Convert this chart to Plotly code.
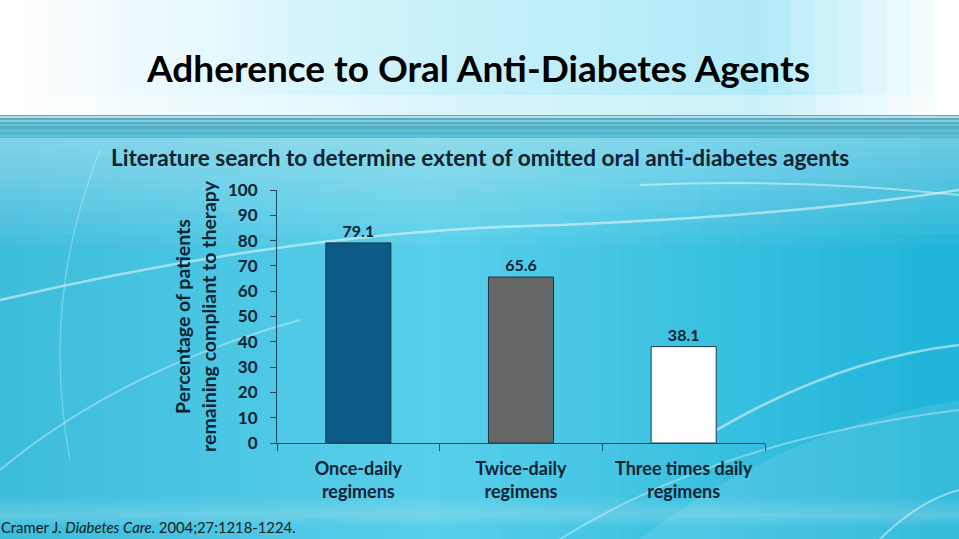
import plotly.graph_objects as go

categories = ["Once-daily<br>regimens", "Twice-daily<br>regimens", "Three times daily<br>regimens"]
values = [79.1, 65.6, 38.1]
value_labels = ["79.1", "65.6", "38.1"]
bar_colors = ["#0b5a87", "#666666", "#ffffff"]
y_ticks = [0, 10, 20, 30, 40, 50, 60, 70, 80, 90, 100]

W, H = 959, 539
ML, MR, MT, MB = 277, 194, 190, 96
PW, PH = W - ML - MR, H - MT - MB
FONT = "Lato"
TXT = "#0d2333"
AX = "#1d4a5e"

def X(px):
    return (px - ML) / PW

def Y(py):
    return (H - MB - py) / PH

def P(px, py):
    return "%.4f %.4f" % (X(px), Y(py))

fig = go.Figure()
fig.add_trace(go.Bar(
    x=categories, y=values, width=0.4,
    marker=dict(color=bar_colors, line=dict(color="#1a3a4a", width=1)),
    text=value_labels, textposition="outside", cliponaxis=False,
    textfont=dict(family=FONT, size=16, color=TXT, weight="bold"),
    hoverinfo="skip",
))

def lerp(c1, c2, t):
    a = [int(c1[i:i+2], 16) for i in (1, 3, 5)]
    b = [int(c2[i:i+2], 16) for i in (1, 3, 5)]
    return "#%02x%02x%02x" % tuple(round(a[k] + (b[k] - a[k]) * t) for k in range(3))

def rect(x0, y0, x1, y1, color, opacity=1.0):
    return dict(type="rect", xref="paper", yref="paper", x0=X(x0), x1=X(x1), y0=Y(y1), y1=Y(y0),
                fillcolor=color, opacity=opacity, line=dict(width=0), layer="below")

shapes = []
# body gradient (left -> right)
N = 48
sw = W / N
for i in range(N):
    t = i / (N - 1)
    if t < 0.45:
        c = lerp("#3dbddc", "#58cfea", t / 0.45)
    else:
        c = lerp("#58cfea", "#1fb4d8", (t - 0.45) / 0.55)
    shapes.append(rect(i * sw, 118, (i + 1) * sw + 1, H, c))
# light band under header fading downward
for k in range(10):
    shapes.append(rect(0, 135, W, 135 + (k + 1) * 11, "#ffffff", 0.045))
# soft light zone near bottom
for k in range(6):
    shapes.append(rect(0, 498 + k * 3, W, 526 - k * 2, "#ffffff", 0.035))
# header gradient
M = 40
sw = W / M
for i in range(M):
    t = i / (M - 1)
    if t < 0.45:
        c = lerp("#ffffff", "#c8f1fa", t / 0.45)
    elif t < 0.8:
        c = lerp("#c8f1fa", "#b0eaf7", (t - 0.45) / 0.35)
    else:
        c = lerp("#b0eaf7", "#ffffff", (t - 0.8) / 0.2)
    shapes.append(rect(i * sw, 0, (i + 1) * sw + 1, 116, c))
shapes.append(rect(0, 95, W, 116, "#ffffff", 0.35))
# stripe band
shapes.append(rect(0, 115, W, 138, "#4fb0c6"))
for yy, col, wd in [(117, "#d6eef3", 1.5), (121, "#9fd6e2", 1.5), (125, "#80c9d9", 1.5), (131, "#62bfd3", 3), (136, "#5cc3da", 3)]:
    shapes.append(dict(type="line", xref="paper", yref="paper", x0=X(0), x1=X(W), y0=Y(yy), y1=Y(yy),
                       line=dict(color=col, width=wd), layer="below"))
# white swooshes
swooshes = [
    ("M " + P(0, 300) + " Q " + P(300, 230) + " " + P(560, 225) + " Q " + P(800, 215) + " " + P(959, 190), 2.5, 0.5),
    ("M " + P(0, 470) + " Q " + P(120, 370) + " " + P(300, 320), 2, 0.35),
    ("M " + P(700, 440) + " Q " + P(830, 360) + " " + P(959, 345), 2.5, 0.5),
    ("M " + P(560, 539) + " Q " + P(720, 440) + " " + P(959, 410), 2, 0.35),
    ("M " + P(640, 185) + " Q " + P(800, 178) + " " + P(959, 195), 2, 0.45),
    ("M " + P(100, 150) + " Q " + P(40, 300) + " " + P(70, 460), 1.5, 0.25),
    ("M " + P(880, 539) + " Q " + P(920, 500) + " " + P(959, 490), 2, 0.45),
]
for path, w, op in swooshes:
    shapes.append(dict(type="path", xref="paper", yref="paper", path=path,
                       line=dict(color="#ffffff", width=w), opacity=op, layer="below"))
shapes.append(dict(type="path", xref="paper", yref="paper",
                   path="M " + P(640, 539) + " Q " + P(780, 430) + " " + P(959, 400) + " L " + P(959, 539) + " Z",
                   fillcolor="#ffffff", opacity=0.1, line=dict(width=0), layer="below"))

annotations = [
    dict(text="<b>Adherence to Oral Anti-Diabetes Agents</b>", x=X(478), y=Y(68), xref="paper", yref="paper",
         showarrow=False, xanchor="center", yanchor="middle",
         font=dict(family=FONT, size=37, color="#000000")),
    dict(text="<b>Literature search to determine extent of omitted oral anti-diabetes agents</b>",
         x=X(480), y=Y(157), xref="paper", yref="paper", showarrow=False,
         xanchor="center", yanchor="middle", font=dict(family=FONT, size=22.6, color=TXT)),
    dict(text="Cramer J. <i>Diabetes Care</i>. 2004;27:1218-1224.", x=X(-1), y=Y(527),
         xref="paper", yref="paper", showarrow=False, xanchor="left", yanchor="middle",
         font=dict(family=FONT, size=14.8, color="#1a1a1a")),
]

fig.update_layout(
    width=W, height=H,
    margin=dict(l=ML, r=MR, t=MT, b=MB),
    paper_bgcolor="#45c6e3", plot_bgcolor="rgba(0,0,0,0)",
    showlegend=False, bargap=0.6,
    shapes=shapes, annotations=annotations,
    font=dict(family=FONT, color=TXT),
)
fig.update_yaxes(
    range=[0, 100], tickvals=y_ticks, showgrid=False, zeroline=False,
    showline=True, linecolor=AX, linewidth=1, ticks="outside", ticklen=6, tickcolor=AX,
    ticklabelstandoff=9,
    tickfont=dict(family=FONT, size=17, color=TXT, weight="bold"),
    title=dict(text="<b>Percentage of patients<br>remaining compliant to therapy</b>", standoff=6,
               font=dict(family=FONT, size=19.5, color=TXT)),
)
fig.update_xaxes(
    showgrid=False, showline=True, linecolor=AX, linewidth=1,
    ticks="outside", tickson="boundaries", ticklen=7, tickcolor=AX,
    ticklabelstandoff=9,
    tickfont=dict(family=FONT, size=18, color=TXT, weight="bold"),
)
fig.write_html("out.html", config={"displayModeBar": False},
               post_script="document.body.style.margin='0';")
